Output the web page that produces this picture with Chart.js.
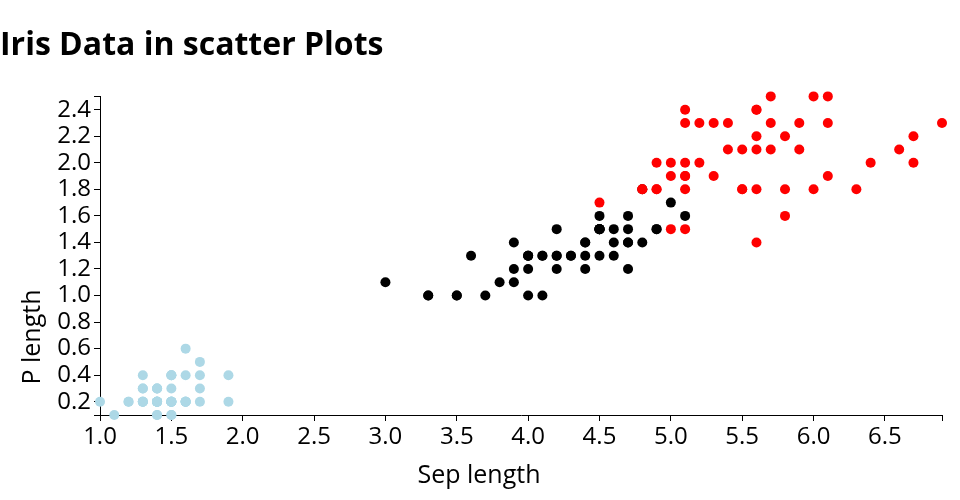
<!DOCTYPE html>
<html>
<head>
<meta charset="utf-8">
<script src="https://cdn.jsdelivr.net/npm/chart.js@4"></script>
<style>
  body { margin: 0; background: #fff; }
  #wrap { width: 960px; height: 500px; }
</style>
</head>
<body>
<div id="wrap"><canvas id="myChart" width="960" height="500"></canvas></div>
<script>
// petal length / petal width per species
const setosaLength = [1.4, 1.4, 1.3, 1.5, 1.4, 1.7, 1.4, 1.5, 1.4, 1.5, 1.5, 1.6, 1.4, 1.1, 1.2, 1.5, 1.3, 1.4, 1.7, 1.5, 1.7, 1.5, 1.0, 1.7, 1.9, 1.6, 1.6, 1.5, 1.4, 1.6, 1.6, 1.5, 1.5, 1.4, 1.5, 1.2, 1.3, 1.4, 1.3, 1.5, 1.3, 1.3, 1.3, 1.6, 1.9, 1.4, 1.6, 1.4, 1.5, 1.4];
const setosaWidth = [0.2, 0.2, 0.2, 0.2, 0.2, 0.4, 0.3, 0.2, 0.2, 0.1, 0.2, 0.2, 0.1, 0.1, 0.2, 0.4, 0.4, 0.3, 0.3, 0.3, 0.2, 0.4, 0.2, 0.5, 0.2, 0.2, 0.4, 0.2, 0.2, 0.2, 0.2, 0.4, 0.1, 0.2, 0.2, 0.2, 0.2, 0.1, 0.2, 0.2, 0.3, 0.3, 0.2, 0.6, 0.4, 0.3, 0.2, 0.2, 0.2, 0.2];

const versicolorLength = [4.7, 4.5, 4.9, 4.0, 4.6, 4.5, 4.7, 3.3, 4.6, 3.9, 3.5, 4.2, 4.0, 4.7, 3.6, 4.4, 4.5, 4.1, 4.5, 3.9, 4.8, 4.0, 4.9, 4.7, 4.3, 4.4, 4.8, 5.0, 4.5, 3.5, 3.8, 3.7, 3.9, 5.1, 4.5, 4.5, 4.7, 4.4, 4.1, 4.0, 4.4, 4.6, 4.0, 3.3, 4.2, 4.2, 4.2, 4.3, 3.0, 4.1];
const versicolorWidth = [1.4, 1.5, 1.5, 1.3, 1.5, 1.3, 1.6, 1.0, 1.3, 1.4, 1.0, 1.5, 1.0, 1.4, 1.3, 1.4, 1.5, 1.0, 1.5, 1.1, 1.8, 1.3, 1.5, 1.2, 1.3, 1.4, 1.4, 1.7, 1.5, 1.0, 1.1, 1.0, 1.2, 1.6, 1.5, 1.6, 1.5, 1.3, 1.3, 1.3, 1.2, 1.4, 1.2, 1.0, 1.3, 1.2, 1.3, 1.3, 1.1, 1.3];

const virginicaLength = [6.0, 5.1, 5.9, 5.6, 5.8, 6.6, 4.5, 6.3, 5.8, 6.1, 5.1, 5.3, 5.5, 5.0, 5.1, 5.3, 5.5, 6.7, 6.9, 5.0, 5.7, 4.9, 6.7, 4.9, 5.7, 6.0, 4.8, 4.9, 5.6, 5.8, 6.1, 6.4, 5.6, 5.1, 5.6, 6.1, 5.6, 5.5, 4.8, 5.4, 5.6, 5.1, 5.1, 5.9, 5.7, 5.2, 5.0, 5.2, 5.4, 5.1];
const virginicaWidth = [2.5, 1.9, 2.1, 1.8, 2.2, 2.1, 1.7, 1.8, 1.8, 2.5, 2.0, 1.9, 2.1, 2.0, 2.4, 2.3, 1.8, 2.2, 2.3, 1.5, 2.3, 2.0, 2.0, 1.8, 2.1, 1.8, 1.8, 1.8, 2.1, 1.6, 1.9, 2.0, 2.2, 1.5, 1.4, 2.3, 2.4, 1.8, 1.8, 2.1, 2.4, 2.3, 1.9, 2.3, 2.5, 2.3, 1.9, 2.0, 2.3, 1.8];

const xTicks = [1.0, 1.5, 2.0, 2.5, 3.0, 3.5, 4.0, 4.5, 5.0, 5.5, 6.0, 6.5];
const yTicks = [0.2, 0.4, 0.6, 0.8, 1.0, 1.2, 1.4, 1.6, 1.8, 2.0, 2.2, 2.4];
const xMin = 1.0, xMax = 6.9;
const yMin = 0.1, yMax = 2.5;

const FONT = "'Open Sans', sans-serif";

const toPoints = (xs, ys) => xs.map((x, i) => ({ x: x, y: ys[i] }));
const hasTick = (list, v) => list.some(t => Math.abs(t - v) < 1e-6);

// d3-like axis: domain ends get an outer tick without a label
const axisTicks = (list, lo, hi) => {
  const vals = list.slice();
  if (!hasTick(vals, lo)) vals.unshift(lo);
  if (!hasTick(vals, hi)) vals.push(hi);
  return vals.map(v => ({ value: v }));
};

const axisTitles = {
  id: 'axisTitles',
  afterDraw(chart) {
    const ctx = chart.ctx;
    ctx.save();
    ctx.fillStyle = '#000';
    ctx.font = '25px ' + FONT;
    ctx.textAlign = 'center';
    ctx.textBaseline = 'middle';
    ctx.fillText('Sep length', 479, 476);
    ctx.translate(33, 337);
    ctx.rotate(-Math.PI / 2);
    ctx.fillText('P length', 0, 0);
    ctx.restore();
  }
};

const axisStyle = {
  grid: { display: true, drawOnChartArea: false, drawTicks: true, tickLength: 6, color: '#000', lineWidth: 1 },
  border: { display: true, color: '#000', width: 1 }
};

new Chart(document.getElementById('myChart').getContext('2d'), {
  type: 'scatter',
  data: {
    datasets: [
      {
        label: 'virginica',
        data: toPoints(virginicaLength, virginicaWidth),
        backgroundColor: 'red',
        borderWidth: 0,
        pointRadius: 5,
        clip: false,
        order: 0
      },
      {
        label: 'versicolor',
        data: toPoints(versicolorLength, versicolorWidth),
        backgroundColor: 'black',
        borderWidth: 0,
        pointRadius: 5,
        clip: false,
        order: 1
      },
      {
        label: 'setosa',
        data: toPoints(setosaLength, setosaWidth),
        backgroundColor: 'lightblue',
        borderWidth: 0,
        pointRadius: 5,
        clip: false,
        order: 2
      }
    ]
  },
  options: {
    responsive: false,
    animation: false,
    events: [],
    layout: { autoPadding: false, padding: { left: 0, right: 18, top: 0, bottom: 0 } },
    plugins: {
      legend: { display: false },
      tooltip: { enabled: false },
      title: {
        display: true,
        text: 'Iris Data in scatter Plots',
        align: 'start',
        color: '#000',
        font: { family: FONT, size: 32, weight: 'bold' },
        padding: { top: 27, bottom: 31 }
      }
    },
    scales: {
      x: {
        type: 'linear',
        min: xMin,
        max: xMax,
        ...axisStyle,
        afterBuildTicks: scale => { scale.ticks = axisTicks(xTicks, xMin, xMax); },
        afterFit: scale => { scale.height = 85; },
        ticks: {
          autoSkip: false,
          maxRotation: 0,
          padding: 2,
          color: '#000',
          font: { family: FONT, size: 24 },
          callback: v => hasTick(xTicks, v) ? v.toFixed(1) : ''
        }
      },
      y: {
        type: 'linear',
        min: yMin,
        max: yMax,
        ...axisStyle,
        afterBuildTicks: scale => { scale.ticks = axisTicks(yTicks, yMin, yMax); },
        afterFit: scale => { scale.width = 100; },
        ticks: {
          autoSkip: false,
          padding: 3,
          color: '#000',
          font: { family: FONT, size: 24 },
          callback: v => hasTick(yTicks, v) ? v.toFixed(1) : ''
        }
      }
    }
  },
  plugins: [axisTitles]
});
</script>
</body>
</html>
